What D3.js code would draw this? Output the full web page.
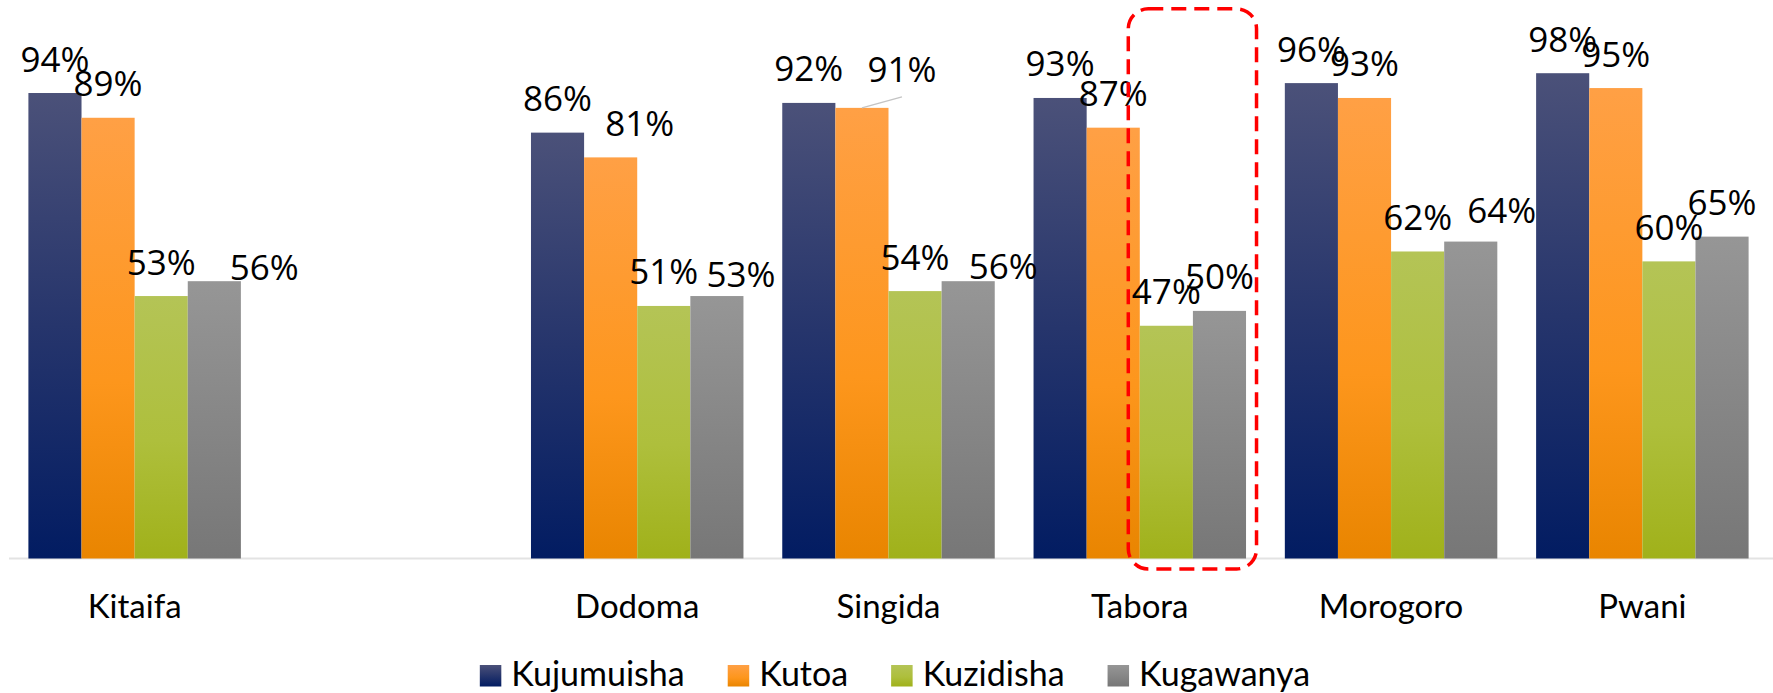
<!DOCTYPE html>
<html>
<head>
<meta charset="utf-8">
<script src="https://cdn.jsdelivr.net/npm/d3@7"></script>
<style>
  html, body { margin: 0; padding: 0; background: #fff; }
  svg { display: block; }
</style>
</head>
<body>
<svg id="chart"></svg>
<script>
// categories (the blank one is an empty slot in the original chart)
const categories = ['Kitaifa', ' ', 'Dodoma', 'Singida', 'Tabora', 'Morogoro', 'Pwani'];
const seriesNames = ['Kujumuisha', 'Kutoa', 'Kuzidisha', 'Kugawanya'];

const kujumuisha = [0.94, null, 0.86, 0.92, 0.93, 0.96, 0.98];
const kutoa = [0.89, null, 0.81, 0.91, 0.87, 0.93, 0.95];
const kuzidisha = [0.53, null, 0.51, 0.54, 0.47, 0.62, 0.60];
const kugawanya = [0.56, null, 0.53, 0.56, 0.50, 0.64, 0.65];

const seriesValues = [kujumuisha, kutoa, kuzidisha, kugawanya];

//Gradient stops per series (top -> bottom)
const gradients = [
  [['0%', '#4B5179'], ['50%', '#26356C'], ['100%', '#021C62']],
  [['0%', '#FFA045'], ['60%', '#FD961C'], ['100%', '#E98500']],
  [['0%', '#B4C456'], ['55%', '#AEBF3C'], ['100%', '#A0B11A']],
  [['0%', '#969696'], ['100%', '#777777']],
];

//Manually moved data labels (pixel nudges, as in the original)
const labelNudge = {
  'Kitaifa|Kugawanya': [50, 20],
  'Dodoma|Kutoa': [29, 0],
  'Dodoma|Kugawanya': [24, 12],
  'Singida|Kutoa': [40, -4.5],
  'Singida|Kugawanya': [35, 19.5],
  'Morogoro|Kugawanya': [31, 3],
};
const leaderLines = ['Singida|Kutoa'];

//Set up svg
const width = 1773;
const height = 693;
const margin = { top: 63.3, left: 9, right: 5, bottom: 134.5 };
const baseY = height - margin.bottom;

const svg = d3.select('#chart').attr('width', width).attr('height', height);

const defs = svg.append('defs');
gradients.forEach((stops, i) => {
  const g = defs
    .append('linearGradient')
    .attr('id', `grad${i}`)
    .attr('x1', 0).attr('y1', 0)
    .attr('x2', 0).attr('y2', 1);
  stops.forEach(([off, col]) => {
    g.append('stop').attr('offset', off).attr('stop-color', col);
  });
});

//Scales
const x0 = d3
  .scaleBand()
  .domain(categories)
  .range([margin.left, width - margin.right])
  .paddingInner(0.1544)
  .paddingOuter(0.0772);

const x1 = d3.scaleBand().domain(seriesNames).range([0, x0.bandwidth()]);

const y = d3.scaleLinear().domain([0, 1]).range([baseY, margin.top]);

//Flatten to bar records
const bars = [];
categories.forEach((cat, ci) => {
  seriesNames.forEach((s, si) => {
    const v = seriesValues[si][ci];
    if (v != null) bars.push({ cat, series: s, si, value: v });
  });
});

//Baseline
svg
  .append('line')
  .attr('x1', x0.range()[0])
  .attr('x2', width)
  .attr('y1', y(0))
  .attr('y2', y(0))
  .attr('stroke', '#E3E3E3')
  .attr('stroke-width', 2);

//Bars
svg
  .selectAll('.bar')
  .data(bars)
  .enter()
  .append('rect')
  .attr('class', 'bar')
  .attr('x', (d) => x0(d.cat) + x1(d.series))
  .attr('y', (d) => y(d.value))
  .attr('width', x1.bandwidth())
  .attr('height', (d) => y(0) - y(d.value))
  .attr('fill', (d) => `url(#grad${d.si})`);

//Leader lines
const labelPos = (d) => {
  const n = labelNudge[`${d.cat}|${d.series}`] || [0, 0];
  return [
    x0(d.cat) + x1(d.series) + x1.bandwidth() / 2 + n[0],
    y(d.value) - 21.5 + n[1],
  ];
};

svg
  .selectAll('.leader')
  .data(bars.filter((d) => leaderLines.includes(`${d.cat}|${d.series}`)))
  .enter()
  .append('line')
  .attr('class', 'leader')
  .attr('x1', (d) => x0(d.cat) + x1(d.series) + x1.bandwidth() / 2)
  .attr('y1', (d) => y(d.value))
  .attr('x2', (d) => labelPos(d)[0])
  .attr('y2', (d) => labelPos(d)[1] + 15)
  .attr('stroke', '#C4C4C4')
  .attr('stroke-width', 1.5);

//Data labels
svg
  .selectAll('.val')
  .data(bars)
  .enter()
  .append('text')
  .attr('class', 'val')
  .attr('x', (d) => labelPos(d)[0])
  .attr('y', (d) => labelPos(d)[1])
  .attr('text-anchor', 'middle')
  .style('font-family', '"Open Sans", "Noto Sans", sans-serif')
  .style('font-size', '35px')
  .style('fill', '#000')
  .text((d) => `${Math.round(d.value * 100)}%`);

//Category labels
svg
  .selectAll('.cat')
  .data(categories)
  .enter()
  .append('text')
  .attr('class', 'cat')
  .attr('x', (d) => x0(d) + x0.bandwidth() / 2)
  .attr('y', 618)
  .attr('text-anchor', 'middle')
  .style('font-family', 'Lato, "Open Sans", sans-serif')
  .style('font-size', '33px')
  .style('fill', '#000')
  .text((d) => d);

//Red dashed highlight around Tabora Kuzidisha / Kugawanya
const hlLeft = x0('Tabora') + x1('Kuzidisha') - 11.5;
const hlRight = x0('Tabora') + x1('Kugawanya') + x1.bandwidth() + 10.5;
const hlTop = y(1.11);
const hlBottom = y(0) + 10.5;
svg
  .append('rect')
  .attr('x', hlLeft)
  .attr('y', hlTop)
  .attr('width', hlRight - hlLeft)
  .attr('height', hlBottom - hlTop)
  .attr('rx', 20)
  .attr('ry', 20)
  .attr('fill', 'none')
  .attr('stroke', '#FF0000')
  .attr('stroke-width', 3.5)
  .attr('stroke-dasharray', '15,8');

//Legend
const legend = svg.append('g');
const sq = 21.5;
let lx = 0;
seriesNames.forEach((s, i) => {
  const item = legend.append('g').attr('transform', `translate(${lx},0)`);
  item
    .append('rect')
    .attr('x', 0)
    .attr('y', 665)
    .attr('width', sq)
    .attr('height', sq)
    .attr('fill', `url(#grad${i})`);
  const t = item
    .append('text')
    .attr('x', sq + 10)
    .attr('y', 686)
    .style('font-family', 'Lato, "Open Sans", sans-serif')
    .style('font-size', '34px')
    .style('fill', '#000')
    .text(s);
  lx += sq + 10 + t.node().getComputedTextLength() + 43;
});
const legendW = lx - 43;
legend.attr('transform', `translate(${895 - legendW / 2},0)`);
</script>
</body>
</html>
